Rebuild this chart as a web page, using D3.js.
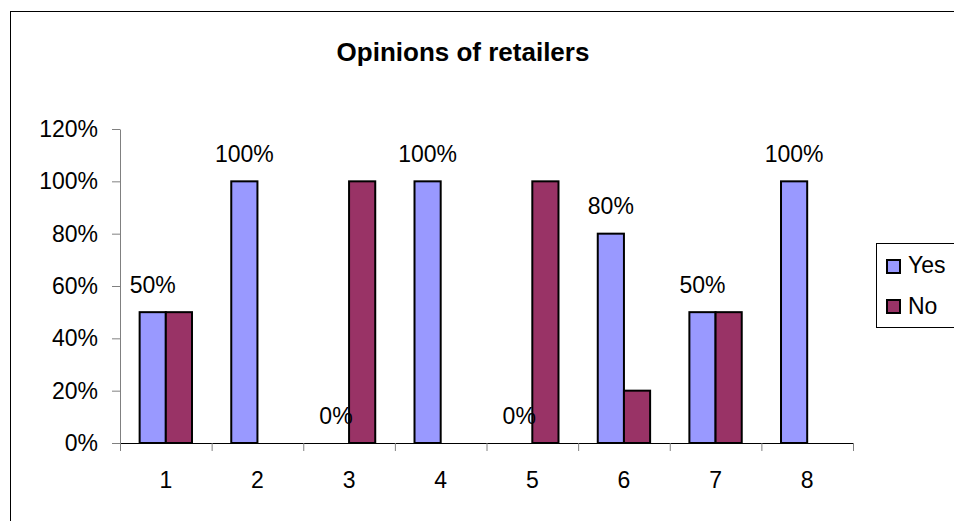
<!DOCTYPE html>
<html>
<head>
<meta charset="utf-8">
<script src="https://cdn.jsdelivr.net/npm/d3@7"></script>
<style>
  html, body { margin: 0; padding: 0; background: #fff; }
  svg { display: block; font-family: Arial, "Liberation Sans", sans-serif; }
</style>
</head>
<body>
<svg id="chart" width="954" height="521"></svg>
<script>
// Survey answers per question, as shares of retailers
const categories = ["1", "2", "3", "4", "5", "6", "7", "8"];
const seriesNames = ["Yes", "No"];
const yesValues = [0.5, 1.0, 0.0, 1.0, 0.0, 0.8, 0.5, 1.0];
const noValues  = [0.5, 0.0, 1.0, 0.0, 1.0, 0.2, 0.5, 0.0];
const yTicks = [0, 0.2, 0.4, 0.6, 0.8, 1.0, 1.2];
const colors = { Yes: "#9999FF", No: "#993366" };
const title = "Opinions of retailers";

const svg = d3.select("#chart");

// outer chart frame
svg.append("rect")
  .attr("x", 10.5).attr("y", 11.5)
  .attr("width", 1000).attr("height", 600)
  .attr("fill", "none").attr("stroke", "#000").attr("stroke-width", 1);

svg.append("text")
  .attr("x", 463).attr("y", 61)
  .attr("text-anchor", "middle")
  .attr("font-size", 26).attr("font-weight", "bold")
  .text(title);

const plot = { left: 120, right: 853, top: 129, bottom: 443 };

const x = d3.scaleBand().domain(categories)
  .range([plot.left, plot.right]).paddingInner(0).paddingOuter(0);
const xs = d3.scaleBand().domain(seriesNames)
  .range([0, x.bandwidth()]).paddingInner(0).paddingOuter(0.75);
const y = d3.scaleLinear().domain([0, 1.2]).range([plot.bottom, plot.top]);

const rows = categories.map((c, i) => ({ cat: c, Yes: yesValues[i], No: noValues[i] }));

// y axis
const yAxis = svg.append("g")
  .attr("transform", `translate(${plot.left},0)`)
  .call(d3.axisLeft(y).tickValues(yTicks).tickFormat(d3.format(".0%"))
    .tickSize(8).tickPadding(14).tickSizeOuter(0));
yAxis.select(".domain").attr("stroke", "#808080");
yAxis.selectAll(".tick line").attr("stroke", "#808080");
yAxis.selectAll(".tick text")
  .attr("font-size", 23).attr("font-family", "Arial, 'Liberation Sans', sans-serif")
  .attr("fill", "#000");

// bars
const groups = svg.append("g").selectAll("g")
  .data(rows).join("g")
  .attr("transform", d => `translate(${x(d.cat)},0)`);

groups.selectAll("rect")
  .data(d => seriesNames.map(s => ({ s, v: d[s] })))
  .join("rect")
  .attr("x", d => xs(d.s))
  .attr("width", xs.bandwidth())
  .attr("y", d => y(d.v))
  .attr("height", d => y(0) - y(d.v))
  .attr("fill", d => colors[d.s])
  .attr("stroke", d => d.v > 0 ? "#000" : "none")
  .attr("stroke-width", 2);

// value labels on the Yes series
groups.append("text")
  .attr("x", xs("Yes") + xs.bandwidth() / 2)
  .attr("y", d => y(d.Yes) - 19.5)
  .attr("text-anchor", "middle")
  .attr("font-size", 23)
  .text(d => d3.format(".0%")(d.Yes));

// x axis: boundary ticks between categories
const xEdge = d3.scaleLinear().domain([0, categories.length]).range([plot.left, plot.right]);
const xAxis = svg.append("g")
  .attr("transform", `translate(0,${plot.bottom})`)
  .call(d3.axisBottom(xEdge).tickValues(d3.range(0, categories.length + 1))
    .tickFormat("").tickSize(8).tickSizeOuter(0));
xAxis.select(".domain").attr("stroke", "#000");
xAxis.selectAll(".tick line").attr("stroke", "#808080");

// category labels
svg.append("g").selectAll("text")
  .data(categories).join("text")
  .attr("x", d => x(d) + x.bandwidth() / 2)
  .attr("y", 488)
  .attr("text-anchor", "middle")
  .attr("font-size", 23)
  .text(d => d);

// legend
const legend = svg.append("g");
legend.append("rect")
  .attr("x", 876.5).attr("y", 243.5)
  .attr("width", 100).attr("height", 84)
  .attr("fill", "#fff").attr("stroke", "#000").attr("stroke-width", 1);
seriesNames.forEach((s, i) => {
  const cy = 267 + i * 40;
  legend.append("rect")
    .attr("x", 887).attr("y", cy - 7)
    .attr("width", 13).attr("height", 13)
    .attr("fill", colors[s]).attr("stroke", "#000").attr("stroke-width", 2);
  legend.append("text")
    .attr("x", 908).attr("y", cy + 6 + (i ? 1 : 0))
    .attr("font-size", 23)
    .text(s);
});
</script>
</body>
</html>
